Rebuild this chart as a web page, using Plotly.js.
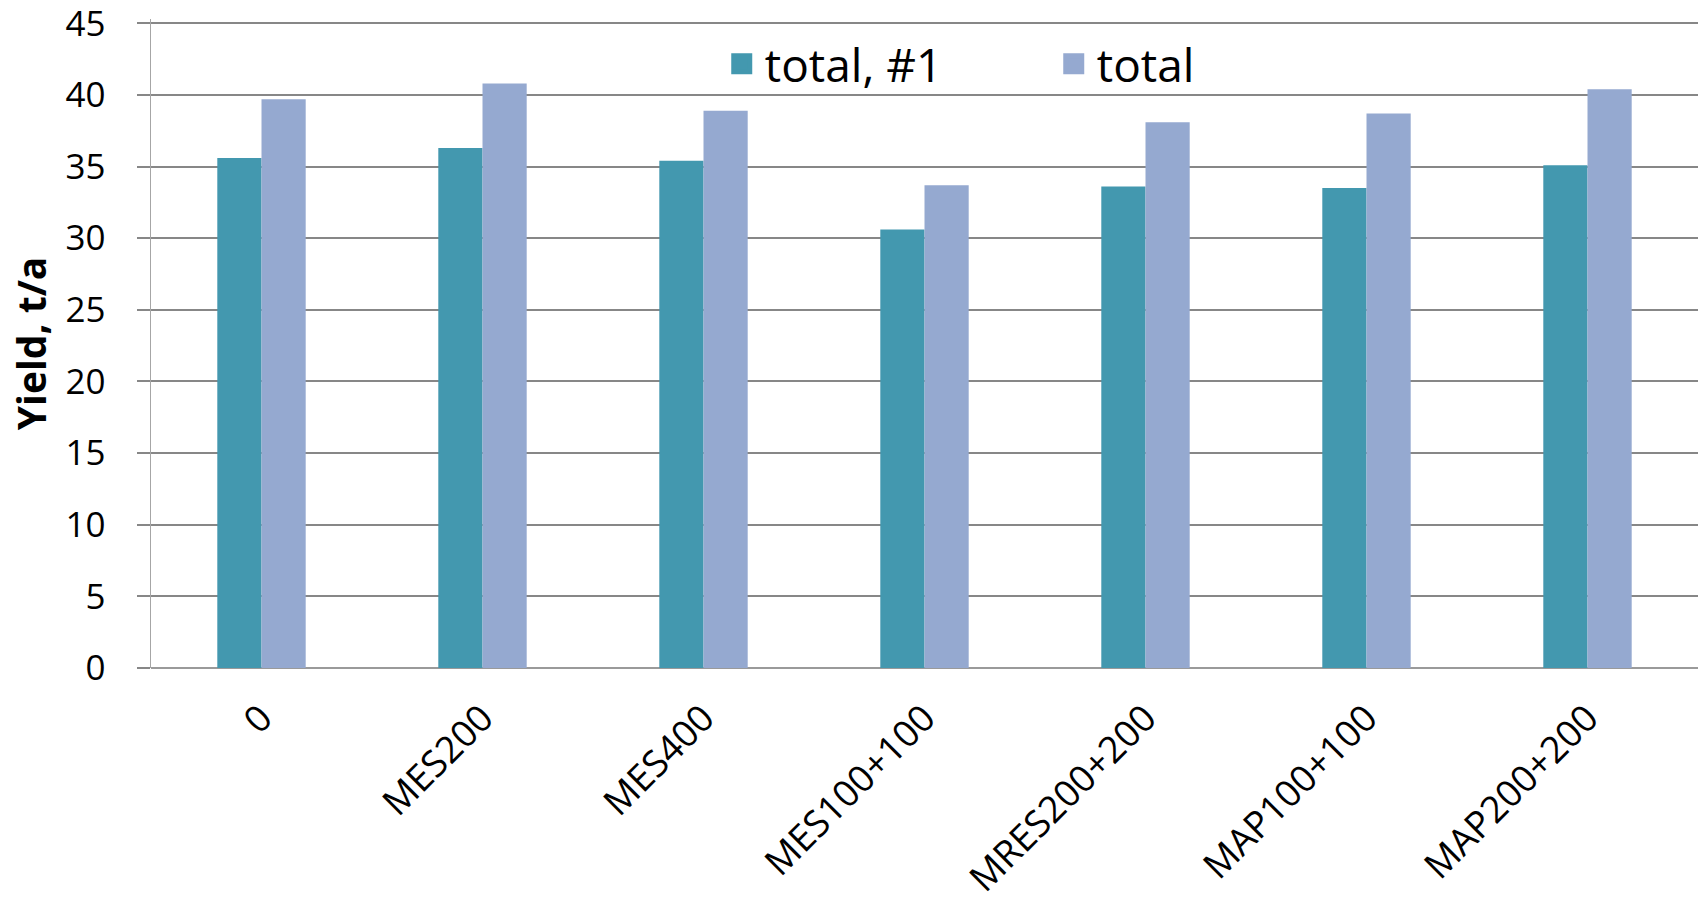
<!DOCTYPE html>
<html>
<head>
<meta charset="utf-8">
<script src="https://cdn.plot.ly/plotly-3.0.1.min.js"></script>
<style>html,body{margin:0;padding:0;background:#fff;}#chart{width:1704px;height:901px;}</style>
</head>
<body>
<div id="chart"></div>
<script>
const categories = ["0", "MES200", "MES400", "MES100+100", "MRES200+200", "MAP100+100", "MAP200+200"];
const total1 = [35.6, 36.3, 35.4, 30.6, 33.6, 33.5, 35.1];
const total = [39.7, 40.8, 38.9, 33.7, 38.1, 38.7, 40.4];
const seriesNames = ["total, #1", "total"];
const yTicks = [0, 5, 10, 15, 20, 25, 30, 35, 40, 45];

const colors = ["#4398AF", "#95A9D0"];
const font = "Open Sans, Noto Sans, sans-serif";

const data = [
  {type: "bar", x: categories, y: total1, name: seriesNames[0], marker: {color: colors[0]}, showlegend: false, legendgroup: "a"},
  {type: "bar", x: categories, y: total, name: seriesNames[1], marker: {color: colors[1]}, showlegend: false, legendgroup: "b"},
  {type: "scatter", mode: "markers", x: [null], y: [null], name: seriesNames[0], legendgroup: "a",
   marker: {symbol: "square", size: 16, color: colors[0], line: {color: colors[0], width: 12}}, hoverinfo: "skip"},
  {type: "scatter", mode: "markers", x: [null], y: [null], name: seriesNames[1], legendgroup: "b",
   marker: {symbol: "square", size: 16, color: colors[1], line: {color: colors[1], width: 12}}, hoverinfo: "skip"}
];

const layout = {
  width: 1704, height: 901,
  margin: {l: 151, r: 6, t: 19, b: 233, autoexpand: false},
  paper_bgcolor: "#fff", plot_bgcolor: "#fff",
  font: {family: font, size: 34, color: "#000"},
  barmode: "group", bargap: 0.6, bargroupgap: 0,
  xaxis: {
    type: "category", tickangle: -45, tickfont: {size: 37}, showgrid: false,
    showline: false, ticks: "", ticklabelstandoff: 20, automargin: false
  },
  yaxis: {
    range: [0, 45.3], tickvals: yTicks, ticktext: yTicks.map(String), tickfont: {size: 35},
    showgrid: true, gridcolor: "#878787", gridwidth: 2,
    zeroline: true, zerolinecolor: "#9a9a9a", zerolinewidth: 2,
    showline: true, linecolor: "#a6a6a6", linewidth: 1.5,
    ticks: "outside", ticklen: 13, tickcolor: "#878787", tickwidth: 2,
    ticklabelstandoff: 24, ticklabeloverflow: "allow", automargin: false,
    title: {text: "<b>Yield, t/a</b>", font: {size: 39}, standoff: 7}
  },
  legend: {
    orientation: "h", x: 0.367, xanchor: "left", y: 0.931, yanchor: "middle",
    font: {size: 46}, bgcolor: "rgba(0,0,0,0)", entrywidth: 281, entrywidthmode: "pixels",
    itemsizing: "trace", itemwidth: 36
  },
  showlegend: true
};

Plotly.newPlot("chart", data, layout, {displayModeBar: false, staticPlot: true});
</script>
</body>
</html>
